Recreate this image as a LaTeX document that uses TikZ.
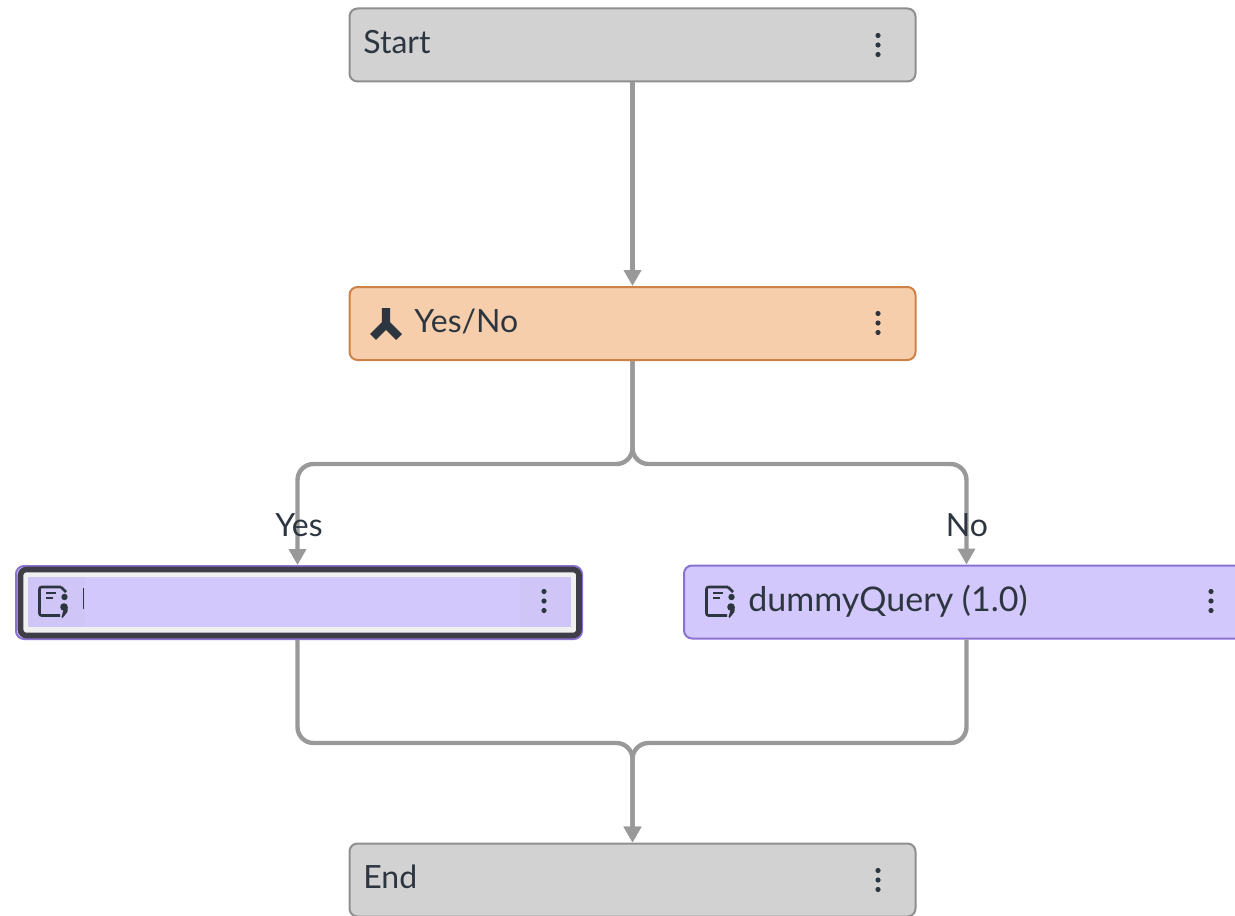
\documentclass[tikz,border=0pt]{standalone}
\usepackage{fontspec}
\setmainfont{Lato}
\usetikzlibrary{arrows.meta}
\definecolor{boxgray}{HTML}{D2D2D2}
\definecolor{linegray}{HTML}{8F8F8F}
\definecolor{flowgray}{HTML}{999999}
\definecolor{inkdark}{HTML}{2D3640}
\definecolor{boxdark}{HTML}{3F3D47}
\definecolor{forkfill}{HTML}{F6CEAB}
\definecolor{forkline}{HTML}{CE8248}
\definecolor{queryfill}{HTML}{D3C8FB}
\definecolor{queryline}{HTML}{8A72D0}
\tikzset{
  flowbox/.style={draw=linegray,fill=boxgray,rounded corners=4pt,line width=1pt,
    minimum width=283pt,minimum height=36.5pt,inner sep=0pt},
  forkbox/.style={flowbox,draw=forkline,fill=forkfill},
  querybox/.style={flowbox,draw=queryline,fill=queryfill},
  flowtext/.style={text=inkdark,font=\fontsize{16}{18}\selectfont,inner sep=0pt,anchor=base west},
  edgetext/.style={text=inkdark,font=\fontsize{16}{18}\selectfont,inner sep=0pt},
  flowedge/.style={draw=flowgray,line width=2.2pt,rounded corners=8pt},
  flowarrow/.style={flowedge,-{Triangle[width=8.5pt,length=8pt]}},
  kebab/.pic={
    \fill[inkdark] (0,-9.5) circle (2.6) (0,0) circle (2.6) (0,9.5) circle (2.6);},
  queryicon/.pic={
    \draw[inkdark,line width=1.3pt,line join=round,rounded corners=1pt]
      (9,-14) -- (-12.5,-14) -- (-12.5,14.5) -- (8,14.5);
    \draw[inkdark,line width=1.3pt] (9,-14) -- (14,-9);
    \draw[inkdark,line width=1.1pt] (-6,-8) -- (4,-8) (-6,-3) -- (1,-3);
    \fill[inkdark] (12.5,-4) circle (3.2);
    \fill[inkdark] (12,6) circle (3.8);
    \fill[inkdark] (15.8,6) -- (15.4,11) -- (10.5,17) -- (9.5,16) -- (11.5,9) -- cycle;},
  forkicon/.pic={
    \draw[inkdark,line width=4.2pt] (0,-15) -- (0,3) (0,1) -- (-13,14) (0,1) -- (13,14);}
}
\begin{document}
\begin{tikzpicture}[x=0.5pt,y=-0.5pt]
\useasboundingbox (0,0) rectangle (1235,915);
\coordinate (forksplit) at (632.5,464);
\coordinate (forkjoin) at (632.5,743);
\node[flowbox] (start) at (632.5,45) {};
\node[forkbox] (yesno) at (632.5,323.5) {};
\node[querybox] (queryyes) at (299,602.5) {};
\node[querybox] (queryno) at (967,602) {};
\node[flowbox] (end) at (632.5,880) {};
% frame of the selected box
\draw[draw=boxdark,line width=2.8pt,fill=white!94!black,rounded corners=3pt]
  (20.5,569.5) rectangle (579,635.5);
\fill[queryfill] (27.5,577) rectangle (571,627);
\fill[queryfill!98.5!black] (27.5,577) rectangle (85,627);
\fill[queryfill!98.5!black] (520,577) rectangle (571,627);
% edges
\draw[flowarrow] (start.south) -- (yesno.north);
\draw[flowarrow] (yesno.south) -- (forksplit) -| ([xshift=-0.75pt]queryyes.north);
\draw[flowarrow] (yesno.south) -- (forksplit) -| ([xshift=-0.25pt]queryno.north);
\draw[flowarrow] ([xshift=-0.75pt]queryyes.south) |- (forkjoin) -- (end.north);
\draw[flowarrow] ([xshift=-0.25pt]queryno.south) |- (forkjoin) -- (end.north);
% labels
\node[flowtext] (starttext) at (363,54) {Start};
\node[flowtext] (yesnotext) at (414,332) {Yes/No};
\node[flowtext,font=\fontsize{17}{18}\selectfont] (querytext) at (748,611) {dummyQuery (1.0)};
\node[flowtext] (endtext) at (363,888) {End};
\node[edgetext] (yeslabel) at (299,525) {Yes};
\node[edgetext] (nolabel) at (967,525) {No};
\draw[inkdark,line width=0.5pt] (83,588) -- (83,609);
% icons
\pic at (878,45) {kebab};
\pic at (878,323) {kebab};
\pic at (544,601) {kebab};
\pic at (1211,601) {kebab};
\pic at (878,880) {kebab};
\pic at (386,323) {forkicon};
\pic at (52,601) {queryicon};
\pic at (719,601) {queryicon};
\end{tikzpicture}
\end{document}
